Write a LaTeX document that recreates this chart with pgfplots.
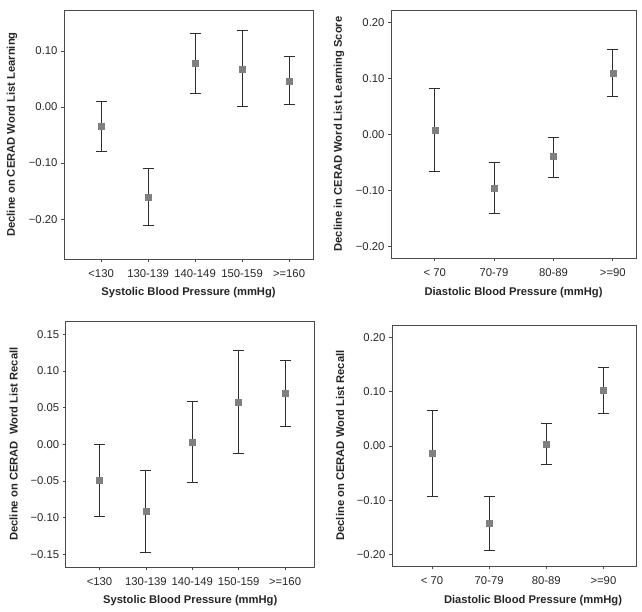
\documentclass[border=0pt]{standalone}
\usepackage{pgfplots}
\pgfplotsset{compat=1.18}
\usepackage{pgfplotstable}
\usepackage{fontspec}
\setmainfont{Liberation Sans}
\definecolor{mk}{HTML}{808080}
\definecolor{eb}{HTML}{2E2E2E}
\definecolor{fr}{HTML}{4A4A4A}

\pgfplotstableread{
x y lo hi
1 -0.035 -0.080 0.010
2 -0.161 -0.211 -0.110
3 0.078 0.024 0.131
4 0.068 0.001 0.136
5 0.046 0.005 0.090
}\sysA
\pgfplotstableread{
x y lo hi
1 0.008 -0.067 0.082
2 -0.097 -0.141 -0.051
3 -0.040 -0.077 -0.005
4 0.109 0.068 0.151
}\diaA
\pgfplotstableread{
x y lo hi
1 -0.049 -0.098 0.000
2 -0.091 -0.147 -0.036
3 0.003 -0.052 0.059
4 0.058 -0.012 0.128
5 0.069 0.024 0.114
}\sysB
\pgfplotstableread{
x y lo hi
1 -0.014 -0.094 0.066
2 -0.142 -0.193 -0.093
3 0.004 -0.035 0.042
4 0.103 0.060 0.145
}\diaB

\pgfplotsset{
  panel/.style={
    scale only axis,
    anchor=south west,
    axis line style={fr, line width=0.9bp},
    tick align=outside,
    major tick length=3bp,
    tick style={fr, line width=0.8bp},
    xtick pos=bottom, ytick pos=left,
    xtick=data,
    font=\fontsize{11.3bp}{13bp}\selectfont,
    tick label style={font=\fontsize{11.3bp}{13bp}\selectfont, text=black!85},
    xticklabel style={yshift=-4bp},
    label style={font=\bfseries\fontsize{11.2bp}{13bp}\selectfont, text=black!85},
    xlabel style={at={(axis description cs:0.5,0)}, anchor=center, yshift=-34bp},
    ylabel style={at={([xshift=-52bp]axis description cs:0,0.5)}, anchor=center, rotate=0},
    /pgf/number format/assume math mode=true,
  },
  pts/.style={
    only marks, mark=square*, mark size=3bp,
    mark options={fill=mk, draw=mk},
    error bars/.cd, y dir=both, y explicit,
    error mark=|,
    error bar style={eb, line width=0.9bp},
    error mark options={eb, line width=0.9bp, mark size=5.5bp},
  },
}

\begin{document}
\begin{tikzpicture}
\path (0,0) rectangle (642bp,612bp);

% Panel 1
\begin{axis}[panel, at={(64bp,353bp)}, width=249bp, height=249bp,
  xmin=0.21, xmax=5.51, ymin=-0.271, ymax=0.173,
  xticklabels={<130,130-139,140-149,150-159,>=160},
  ytick={-0.2,-0.1,0,0.1}, yticklabels={−0.20,−0.10,0.00,0.10},
  xlabel={Systolic Blood Pressure (mmHg)},
  ylabel={Decline on CERAD Word List Learning}]
\addplot[pts] table[x=x, y=y, y error plus expr=\thisrow{hi}-\thisrow{y}, y error minus expr=\thisrow{y}-\thisrow{lo}] {\sysA};
\end{axis}

% Panel 2
\begin{axis}[panel, at={(391bp,354bp)}, width=245bp, height=248bp,
  xmin=0.264, xmax=4.39, ymin=-0.221, ymax=0.222,
  xticklabels={< 70,70-79,80-89,>=90},
  ytick={-0.2,-0.1,0,0.1,0.2}, yticklabels={−0.20,−0.10,0.00,0.10,0.20},
  xlabel={Diastolic Blood Pressure (mmHg)},
  xlabel style={yshift=-1bp},
  ylabel={Decline in CERAD Word List Learning Score}]
\addplot[pts] table[x=x, y=y, y error plus expr=\thisrow{hi}-\thisrow{y}, y error minus expr=\thisrow{y}-\thisrow{lo}] {\diaA};
\end{axis}

% Panel 3
\begin{axis}[panel, at={(65.7bp,45bp)}, width=249bp, height=246bp,
  xmin=0.27, xmax=5.64, ymin=-0.167, ymax=0.168,
  xticklabels={<130,130-139,140-149,150-159,>=160},
  ytick={-0.15,-0.1,-0.05,0,0.05,0.1,0.15},
  yticklabels={−0.15,−0.10,−0.05,0.00,0.05,0.10,0.15},
  xlabel={Systolic Blood Pressure (mmHg)},
  ylabel={Decline on CERAD\ \ Word List Recall}]
\addplot[pts] table[x=x, y=y, y error plus expr=\thisrow{hi}-\thisrow{y}, y error minus expr=\thisrow{y}-\thisrow{lo}] {\sysB};
\end{axis}

% Panel 4
\begin{axis}[panel, at={(392bp,46bp)}, width=244bp, height=241bp,
  xmin=0.30, xmax=4.57, ymin=-0.2216, ymax=0.2234,
  xticklabels={< 70,70-79,80-89,>=90},
  ytick={-0.2,-0.1,0,0.1,0.2}, yticklabels={−0.20,−0.10,0.00,0.10,0.20},
  xlabel={Diastolic Blood Pressure (mmHg)},
  xlabel style={xshift=19bp, yshift=-1bp},
  ylabel={Decline on CERAD Word List Recall}]
\addplot[pts] table[x=x, y=y, y error plus expr=\thisrow{hi}-\thisrow{y}, y error minus expr=\thisrow{y}-\thisrow{lo}] {\diaB};
\end{axis}
\end{tikzpicture}
\end{document}
